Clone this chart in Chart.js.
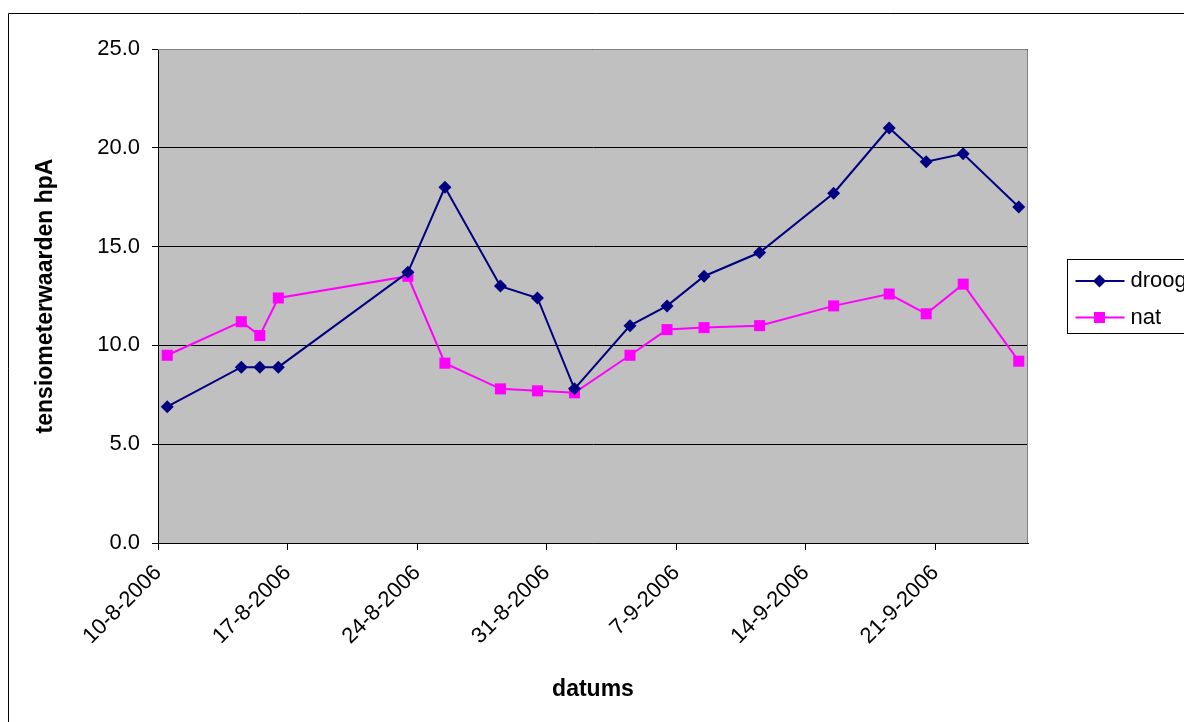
<!DOCTYPE html>
<html lang="nl">
<head>
  <meta charset="UTF-8" />
  <title>Tensiometerwaarden</title>
  <script src="https://cdn.jsdelivr.net/npm/chart.js"></script>
  <style>
    html, body { margin: 0; padding: 0; background: #fff; }
    #wrap { width: 1184px; height: 722px; }
  </style>
</head>
<body>
  <div id="wrap"><canvas id="chart" width="1184" height="722"></canvas></div>

  <script>
    // meetdata
    const dates = ['10-8-2006', '14-8-2006', '15-8-2006', '16-8-2006', '23-8-2006', '25-8-2006',
                   '28-8-2006', '30-8-2006', '1-9-2006', '4-9-2006', '6-9-2006', '8-9-2006',
                   '11-9-2006', '15-9-2006', '18-9-2006', '20-9-2006', '22-9-2006', '25-9-2006'];
    const droog = [6.9, 8.9, 8.9, 8.9, 13.7, 18.0, 13.0, 12.4, 7.8, 11.0, 12.0, 13.5,
                   14.7, 17.7, 21.0, 19.3, 19.7, 17.0];
    const nat   = [9.5, 11.2, 10.5, 12.4, 13.5, 9.1, 7.8, 7.7, 7.6, 9.5, 10.8, 10.9,
                   11.0, 12.0, 12.6, 11.6, 13.1, 9.2];
    const tickLabels = ['10-8-2006', '17-8-2006', '24-8-2006', '31-8-2006', '7-9-2006', '14-9-2006', '21-9-2006'];
    const yTicks = [0, 5, 10, 15, 20, 25];

    // dagen sinds de eerste datum
    function dayNr(s) {
      const p = s.split('-').map(Number);
      return Math.round((Date.UTC(p[2], p[1] - 1, p[0]) - Date.UTC(2006, 7, 10)) / 86400000);
    }
    const lastDay = dayNr('26-9-2006');

    const toPoints = vals => vals.map((v, i) => ({ x: dayNr(dates[i]) + 0.5, y: v }));

    Chart.defaults.font.family = "'Liberation Sans', Arial, sans-serif";
    Chart.defaults.color = '#000';

    const frame = {
      id: 'frame',
      beforeDraw(chart) {
        const ctx = chart.ctx, a = chart.chartArea;
        ctx.save();
        ctx.fillStyle = '#fff';
        ctx.fillRect(0, 0, chart.width, chart.height);
        ctx.strokeStyle = '#000';
        ctx.lineWidth = 1;
        ctx.beginPath();
        ctx.moveTo(8.5, chart.height + 5);
        ctx.lineTo(8.5, 13.5);
        ctx.lineTo(chart.width + 5, 13.5);
        ctx.stroke();
        ctx.fillStyle = '#c0c0c0';
        ctx.fillRect(a.left, a.top, a.right - a.left, a.bottom - a.top);
        ctx.restore();
      },
      beforeDatasetsDraw(chart) {
        const ctx = chart.ctx, a = chart.chartArea;
        ctx.save();
        ctx.strokeStyle = '#808080';
        ctx.lineWidth = 1;
        ctx.beginPath();
        ctx.moveTo(a.left, a.top + 0.5);
        ctx.lineTo(a.right - 0.5, a.top + 0.5);
        ctx.lineTo(a.right - 0.5, a.bottom);
        ctx.stroke();
        ctx.restore();
      },
      afterDraw(chart) {
        // legenda met kader
        const ctx = chart.ctx, a = chart.chartArea;
        const bx = a.right + 39.5, by = 259.5;
        ctx.save();
        ctx.strokeStyle = '#000';
        ctx.lineWidth = 1;
        ctx.strokeRect(bx, by, 200, 74);
        chart.data.datasets.forEach((ds, i) => {
          const y = 281 + i * 36.5;
          ctx.strokeStyle = ds.borderColor;
          ctx.lineWidth = 2;
          ctx.beginPath();
          ctx.moveTo(bx + 8, y);
          ctx.lineTo(bx + 57, y);
          ctx.stroke();
          ctx.fillStyle = ds.backgroundColor;
          const mx = bx + 32;
          if (ds.pointStyle === 'rectRot') {
            ctx.beginPath();
            ctx.moveTo(mx, y - 6.5);
            ctx.lineTo(mx + 6.5, y);
            ctx.lineTo(mx, y + 6.5);
            ctx.lineTo(mx - 6.5, y);
            ctx.closePath();
            ctx.fill();
          } else {
            ctx.fillRect(mx - 5.5, y - 5.5, 11, 11);
          }
          ctx.fillStyle = '#000';
          ctx.font = "22px 'Liberation Sans', Arial, sans-serif";
          ctx.textBaseline = 'middle';
          ctx.fillText(ds.label, bx + 63, y);
        });
        ctx.restore();
      }
    };

    new Chart(document.getElementById('chart'), {
      type: 'line',
      data: {
        datasets: [
          {
            label: 'droog',
            data: toPoints(droog),
            borderColor: '#000080',
            backgroundColor: '#000080',
            borderWidth: 2,
            pointStyle: 'rectRot',
            pointRadius: 6.5,
            pointBorderWidth: 0,
            tension: 0
          },
          {
            label: 'nat',
            data: toPoints(nat),
            borderColor: '#ff00ff',
            backgroundColor: '#ff00ff',
            borderWidth: 2,
            pointStyle: 'rect',
            pointRadius: 7.8,
            pointBorderWidth: 0,
            tension: 0
          }
        ]
      },
      options: {
        responsive: false,
        animation: false,
        layout: { padding: { top: 49, right: 156, bottom: 0, left: 0 } },
        plugins: { legend: { display: false }, tooltip: { enabled: false } },
        scales: {
          x: {
            type: 'linear',
            min: 0,
            max: lastDay,
            afterFit: s => { s.height = 179; },
            afterBuildTicks: s => { s.ticks = tickLabels.map(t => ({ value: dayNr(t) })); },
            ticks: {
              minRotation: 45,
              maxRotation: 45,
              padding: 10,
              font: { size: 22 },
              callback: v => tickLabels.find(t => dayNr(t) === v) || ''
            },
            grid: { drawOnChartArea: false, drawTicks: true, tickLength: 7, color: '#000' },
            border: { display: true, color: '#000', width: 1 },
            title: {
              display: true,
              text: 'datums',
              font: { size: 23, weight: 'bold' },
              padding: { top: 0, bottom: 19 }
            }
          },
          y: {
            min: 0,
            max: 25,
            afterFit: s => { s.width = 158; },
            afterBuildTicks: s => { s.ticks = yTicks.map(v => ({ value: v })); },
            ticks: {
              padding: 12,
              font: { size: 22 },
              callback: v => v.toFixed(1)
            },
            grid: { color: '#000', lineWidth: 1, tickLength: 6 },
            border: { display: true, color: '#000', width: 1 },
            title: {
              display: true,
              text: 'tensiometerwaarden hpA',
              font: { size: 23, weight: 'bold' },
              padding: { top: 32, bottom: 0 }
            }
          }
        }
      },
      plugins: [frame]
    });
  </script>
</body>
</html>
